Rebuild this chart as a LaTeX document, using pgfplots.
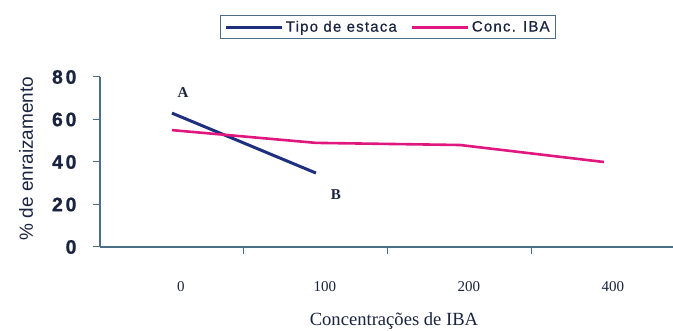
\documentclass[border=0pt]{standalone}
\usepackage{fontspec}
\setmainfont{Liberation Serif}
\setsansfont{Liberation Sans}
\usepackage{pgfplots}
\pgfplotsset{compat=1.18}
\definecolor{navy}{HTML}{1F2F80}
\definecolor{pinkc}{HTML}{E0177F}
\definecolor{axc}{HTML}{4A6E88}
\definecolor{txt}{HTML}{1A2440}
\begin{document}
\begin{tikzpicture}
\begin{axis}[
  at={(0pt,0pt)}, anchor=south west,
  scale only axis, width=573pt, height=170pt,
  xmin=-0.5, xmax=3.48, ymin=0, ymax=80,
  axis lines*=left,
  axis line style={draw=axc, line width=1.2pt},
  tick align=outside, major tick length=7pt,
  tick style={draw=axc, line width=1pt},
  /pgf/number format/assume math mode=true,
  xtick={0.5,1.5,2.5}, xticklabels={},
  extra x ticks={0,1,2,3},
  extra x tick labels={0,100,200,400},
  extra x tick style={major tick length=0pt,
    xticklabel style={font=\fontsize{15}{15}\selectfont, text=txt, anchor=center, yshift=-40pt, xshift=9pt}},
  ytick={0,20,40,60,80},
  yticklabel style={font=\sffamily\bfseries\fontsize{19.5}{19.5}\selectfont\addfontfeature{LetterSpace=14,FakeBold=0.8}, text=txt, xshift=-13pt},
  ylabel={\% de enraizamento},
  ylabel style={at={(axis description cs:-0.129,0.52)}, anchor=center, font=\sffamily\fontsize{19}{19}\selectfont, text=txt},
  xlabel={Concentrações de IBA},
  xlabel style={at={(axis description cs:0.513,-0.435)}, anchor=center, font=\fontsize{18.6}{18.6}\selectfont, text=txt},
  legend columns=2,
  legend style={at={(axis description cs:0.503,1.294)}, anchor=center, draw=axc, line width=0.8pt,
    font=\sffamily\fontsize{15}{15}\selectfont\addfontfeature{LetterSpace=8,FakeBold=0.6}, text=txt,
    inner xsep=4pt, inner ysep=3pt,
    /tikz/every even column/.append style={column sep=12pt}},
  legend image code/.code={\draw[#1, line width=3pt] (0pt,0pt) -- (56pt,0pt);},
]
\addplot[navy, line width=3pt] coordinates {(0,63) (1,34.8)};
\addlegendentry{Tipo de estaca}
\addplot[pinkc, line width=2.6pt] coordinates {(0,55) (1,49) (2,48) (3,40)};
\addlegendentry{Conc. IBA}
\node[font=\bfseries\fontsize{15}{15}\selectfont, text=txt] at (axis cs:0.076,72.5) {A};
\node[font=\bfseries\fontsize{15}{15}\selectfont, text=txt] at (axis cs:1.139,24.5) {B};
\end{axis}
\pgfresetboundingbox
\path[use as bounding box] (-100pt,-84pt) rectangle (573pt,247pt);
\end{tikzpicture}
\end{document}
